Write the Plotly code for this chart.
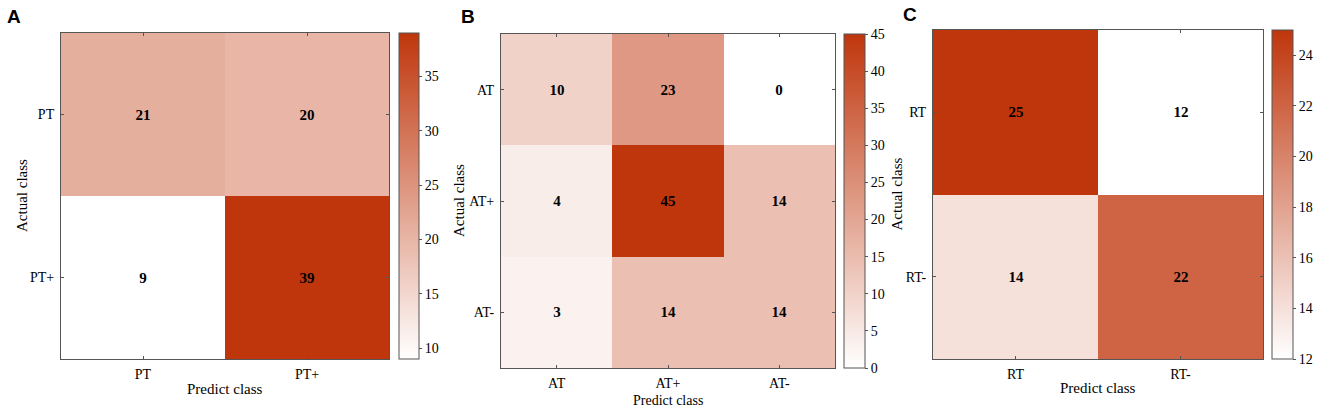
import plotly.graph_objects as go

# confusion matrices (rows = actual class, cols = predicted class)
labels_a = ["PT", "PT+"]
z_a = [[21, 20],
       [9, 39]]

labels_b = ["AT", "AT+", "AT-"]
z_b = [[10, 23, 0],
       [4, 45, 14],
       [3, 14, 14]]

labels_c = ["RT", "RT-"]
z_c = [[25, 12],
       [14, 22]]

W, H = 1325, 410
serif = "Liberation Serif"
dark = "#BF360C"
scale = [[0, "#FFFFFF"], [1, dark]]

# pixel boxes: (left, right, top, bottom) for plot, colorbar x / thickness, dtick
panels = [
    dict(lab="A", x=labels_a, z=z_a, box=(61, 389, 33, 359), cb=(399, 20), dtick=5,
         letter=(5, 16), xt=389, yt=22),
    dict(lab="B", x=labels_b, z=z_b, box=(501, 835, 34, 368), cb=(844, 21), dtick=5,
         letter=(459, 16), xt=400, yt=459),
    dict(lab="C", x=labels_c, z=z_c, box=(933, 1263, 30, 359), cb=(1272, 21), dtick=2,
         letter=(901, 14), xt=388, yt=896),
]

fig = go.Figure()
annotations = []
for i, p in enumerate(panels, start=1):
    sfx = "" if i == 1 else str(i)
    l, r, t, b = p["box"]
    zs = [v for row in p["z"] for v in row]
    fig.add_trace(go.Heatmap(
        x=p["x"], y=p["x"], z=p["z"],
        xaxis="x" + sfx, yaxis="y" + sfx,
        coloraxis="coloraxis" + sfx,
        texttemplate="<b>%{z}</b>", textfont=dict(family=serif, size=15, color="black"),
        xgap=0, ygap=0, hoverinfo="skip",
    ))
    axis_common = dict(
        showline=True, linecolor="#555555", linewidth=1, mirror="ticks",
        ticks="inside", ticklen=3, tickcolor="#555555",
        tickfont=dict(family=serif, size=14, color="black"),
        showgrid=False, zeroline=False, type="category", automargin=False,
    )
    fig.update_layout(**{
        "xaxis" + sfx: dict(axis_common, domain=[l / W, r / W], anchor="y" + sfx,
                            ticklabelstandoff=2),
        "yaxis" + sfx: dict(axis_common, domain=[1 - b / H, 1 - t / H], anchor="x" + sfx,
                            autorange="reversed", ticklabelstandoff=3),
        "coloraxis" + sfx: dict(
            colorscale=scale, cmin=min(zs), cmax=max(zs),
            colorbar=dict(
                x=p["cb"][0] / W, xanchor="left", xpad=0, ypad=0,
                thickness=p["cb"][1], thicknessmode="pixels",
                y=1 - (t + b) / 2 / H, yanchor="middle",
                len=(b - t) / H, lenmode="fraction",
                outlinecolor="#555555", outlinewidth=1,
                ticks="outside", ticklen=3, tickcolor="#555555",
                dtick=p["dtick"], tick0=0,
                tickfont=dict(family=serif, size=14, color="black"),
            ),
        ),
    })
    annotations.append(dict(
        text="Predict class", xref="paper", yref="paper",
        x=(l + r) / 2 / W, y=1 - p["xt"] / H,
        showarrow=False, font=dict(family=serif, size=14 if p["lab"] == "B" else 15, color="black"),
        xanchor="center", yanchor="middle",
    ))
    annotations.append(dict(
        text="Actual class", xref="paper", yref="paper",
        x=p["yt"] / W, y=1 - (t + b) / 2 / H, textangle=-90,
        showarrow=False, font=dict(family=serif, size=15, color="black"),
        xanchor="center", yanchor="middle",
    ))
    annotations.append(dict(
        text="<b>" + p["lab"] + "</b>", xref="paper", yref="paper",
        x=p["letter"][0] / W, y=1 - p["letter"][1] / H,
        showarrow=False, font=dict(family="Liberation Sans", size=19, color="black"),
        xanchor="left", yanchor="middle",
    ))

fig.update_layout(
    width=W, height=H,
    margin=dict(l=0, r=0, t=0, b=0, autoexpand=False),
    paper_bgcolor="white", plot_bgcolor="white",
    annotations=annotations,
    showlegend=False,
)

# drop the page's default body margin so the figure fills the window
fig.write_html("out.html", config={"displayModeBar": False},
               post_script="document.body.style.margin='0';")
